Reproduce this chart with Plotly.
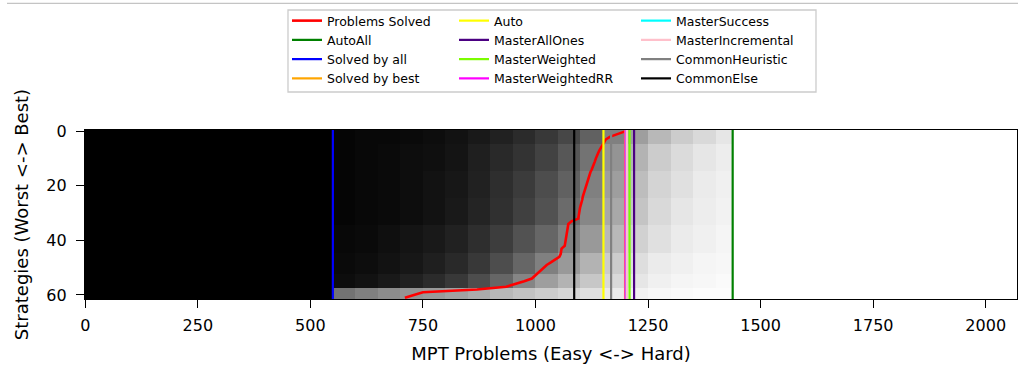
import plotly.graph_objects as go

# ---------------- data ----------------
N_PROBLEMS = 2070
N_STRATEGIES = 62

# number of problems solved by each strategy row (0 = best, 61 = worst)
problems_solved = [1199, 1180, 1165, 1156, 1152, 1148, 1145, 1142, 1139, 1136,
                   1134, 1132, 1130, 1128, 1125, 1122, 1120, 1118, 1116, 1114,
                   1112, 1110, 1108, 1106, 1105, 1104, 1102, 1100, 1099, 1098,
                   1097, 1096, 1095, 1080, 1073, 1072, 1071, 1070, 1069, 1068,
                   1067, 1066, 1065, 1058, 1057, 1056, 1053, 1045, 1035, 1025,
                   1018, 1012, 1005, 999, 992, 975, 955, 935, 870, 750, 730, 710]
strategy_rows = list(range(N_STRATEGIES))

# reference lines (problem counts)
line_names = ["AutoAll", "Solved by all", "Solved by best", "Auto",
              "MasterAllOnes", "MasterWeighted", "MasterWeightedRR",
              "MasterSuccess", "MasterIncremental", "CommonHeuristic", "CommonElse"]
line_values = [1438, 550, 1199, 1151, 1219, 1209, 1200, 1203, 1203, 1168, 1086]

# estimated fraction of solved cells (black) per block of the solved matrix
density_col_edges = [-0.5, 550.5, 600, 650, 700, 750, 800, 850, 900, 950, 1000,
                     1050, 1100, 1150, 1200, 1250, 1300, 1350, 1400, 1438.5]
density_row_edges = [-0.5, 4.5, 14.5, 24.5, 34.5, 44.5, 52.5, 57.5, 61.5]
density_rows_0_4 = [1, .98, .97, .97, .96, .95, .93, .90, .87, .83, .78, .72, .62, .50, .38, .28, .20, .15, .10]
density_rows_5_14 = [1, .98, .97, .96, .95, .94, .92, .88, .84, .80, .74, .66, .55, .42, .30, .20, .14, .10, .07]
density_rows_15_24 = [1, .98, .97, .96, .95, .93, .91, .87, .82, .77, .70, .62, .50, .38, .26, .17, .12, .08, .06]
density_rows_25_34 = [1, .98, .97, .96, .95, .93, .90, .86, .81, .75, .68, .58, .47, .34, .23, .15, .10, .07, .05]
density_rows_35_44 = [1, .97, .96, .94, .92, .90, .87, .82, .76, .68, .60, .50, .40, .28, .18, .12, .08, .06, .04]
density_rows_45_52 = [1, .96, .95, .93, .91, .88, .84, .78, .70, .60, .50, .40, .30, .20, .13, .08, .06, .04, .03]
density_rows_53_57 = [1, .95, .93, .90, .87, .83, .78, .70, .60, .48, .38, .30, .22, .15, .10, .06, .04, .03, .02]
density_rows_58_61 = [1, .55, .50, .45, .42, .40, .37, .33, .28, .24, .20, .16, .12, .08, .05, .03, .02, .01, .01]

# ---------------- styles ----------------
line_colors = ["#008000", "#0000ff", "#ffa500", "#ffff00", "#4b0082", "#7cfc00",
               "#ff00ff", "#00ffff", "#ffc0cb", "#808080", "#000000"]
legend_of = ["legend", "legend", "legend", "legend2", "legend2", "legend2",
             "legend2", "legend3", "legend3", "legend3", "legend3"]

FONT = "DejaVu Sans"
L, R, T, B = 85, 1, 130, 71
W, H = 1018, 370
PW, PH = W - L - R, H - T - B


def px_x(px):
    return (px - L) / PW


def px_y(py):
    return (H - B - py) / PH


fig = go.Figure()

z = [density_rows_0_4, density_rows_5_14, density_rows_15_24, density_rows_25_34,
     density_rows_35_44, density_rows_45_52, density_rows_53_57, density_rows_58_61]
fig.add_trace(go.Heatmap(
    z=z, x=density_col_edges, y=density_row_edges,
    colorscale=[[0, "#ffffff"], [1, "#000000"]], zmin=0, zmax=1,
    showscale=False, zsmooth=False, hoverinfo="skip", showlegend=False))

fig.add_trace(go.Scatter(
    x=problems_solved, y=strategy_rows, mode="lines", name="Problems Solved",
    line=dict(color="#ff0000", width=2.6), legend="legend"))

for name, val, col, lg in zip(line_names, line_values, line_colors, legend_of):
    fig.add_trace(go.Scatter(
        x=[val, val], y=[-0.5, N_STRATEGIES - 0.5], mode="lines", name=name,
        line=dict(color=col, width=2.2), legend=lg))

leg_common = dict(yanchor="top", xanchor="left", orientation="v",
                  bgcolor="rgba(0,0,0,0)", borderwidth=0,
                  font=dict(family=FONT, size=12.5, color="#000000"),
                  tracegroupgap=0, itemwidth=30)

LEG_TOP = px_y(6)

fig.update_layout(
    width=W, height=H, autosize=False,
    margin=dict(l=L, r=R, t=T, b=B, pad=0),
    plot_bgcolor="#ffffff", paper_bgcolor="#ffffff",
    font=dict(family=FONT, size=16, color="#000000"),
    legend=dict(x=px_x(287), y=LEG_TOP, **leg_common),
    legend2=dict(x=px_x(454), y=LEG_TOP, **leg_common),
    legend3=dict(x=px_x(636), y=LEG_TOP, **leg_common),
    xaxis=dict(range=[-0.5, N_PROBLEMS - 0.5], tickvals=[0, 250, 500, 750, 1000, 1250, 1500, 1750, 2000],
               ticks="outside", ticklen=8, tickwidth=1.4, tickcolor="#000000",
               showline=True, linecolor="#000000", linewidth=1.4, mirror=True,
               showgrid=False, zeroline=False, ticklabelstandoff=4,
               title=dict(text="MPT Problems (Easy <-> Hard)", font=dict(size=18), standoff=12)),
    yaxis=dict(range=[N_STRATEGIES - 0.5, -0.5], tickvals=[0, 20, 40, 60],
               ticks="outside", ticklen=8, tickwidth=1.4, tickcolor="#000000",
               showline=True, linecolor="#000000", linewidth=1.4, mirror=True,
               showgrid=False, zeroline=False, ticklabelstandoff=6,
               title=dict(text="Strategies (Worst <-> Best)", font=dict(size=18), standoff=12)),
    shapes=[
        dict(type="rect", xref="paper", yref="paper",
             x0=px_x(288), x1=px_x(816), y0=px_y(92), y1=px_y(10),
             line=dict(color="#cccccc", width=1.3), fillcolor="rgba(255,255,255,0.8)", layer="above"),
        dict(type="line", xref="paper", yref="paper",
             x0=px_x(7), x1=px_x(1018), y0=px_y(3.3), y1=px_y(3.3),
             line=dict(color="#c4c4c4", width=1.2)),
    ],
)

fig.write_html("out.html", config={"displayModeBar": False},
               post_script="document.body.style.margin='0';document.body.style.overflow='hidden';")
